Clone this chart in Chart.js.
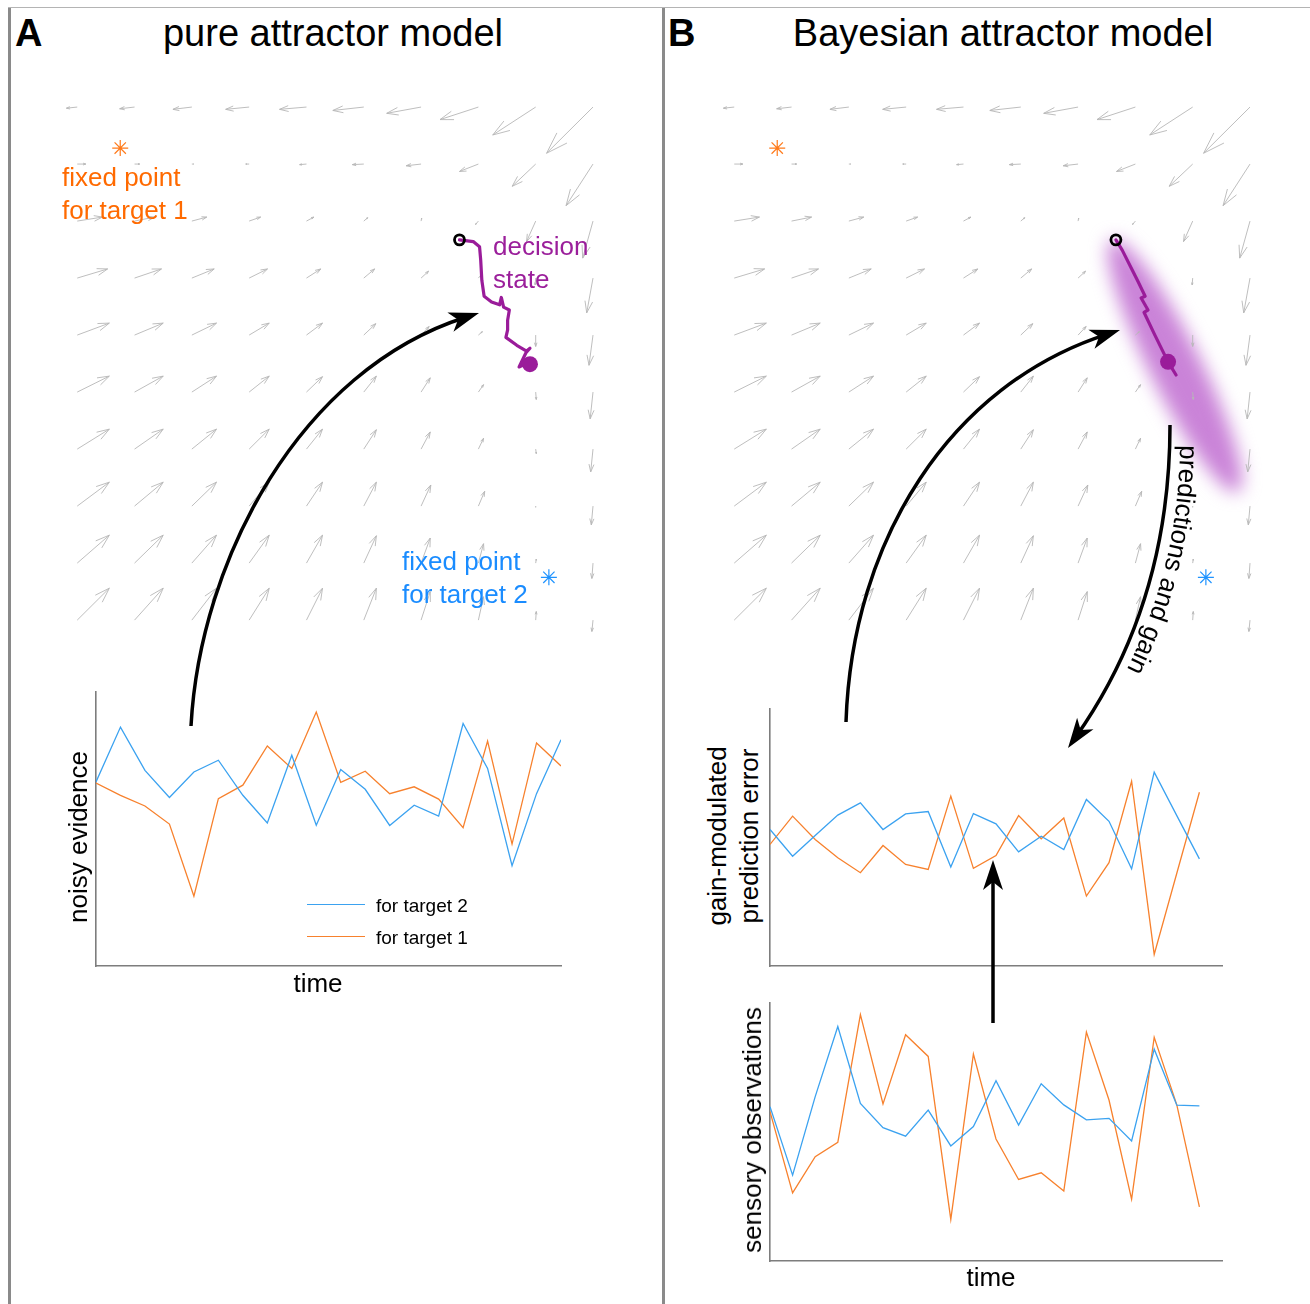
<!DOCTYPE html>
<html lang="en">
<head>
<meta charset="UTF-8">
<title>Attractor models</title>
<script src="https://cdn.jsdelivr.net/npm/chart.js"></script>
<style>
  body { margin: 0; background: #fff; font-family: "Liberation Sans", Arial, sans-serif; }
  #figure { position: relative; width: 1310px; height: 1304px; overflow: hidden; background: #fff; }
  #figure canvas { position: absolute; }
  .rule { position: absolute; }
  .txt { position: absolute; white-space: nowrap; color: #000; }
  .title { font-size: 38px; line-height: 38px; }
  .letter { font-size: 38px; line-height: 38px; font-weight: bold; }
  .note { font-size: 26px; line-height: 33px; }
  .axlab { font-size: 26px; line-height: 32px; text-align: center; transform: translate(-50%, -50%); }
  .rot { transform: translate(-50%, -50%) rotate(-90deg); }
  .leg { font-size: 19px; line-height: 19px; }
  .legline { position: absolute; height: 0; }
  svg { position: absolute; left: 0; top: 0; }
</style>
</head>
<body>
<div id="figure">
  <div class="rule" style="left:8px;top:7px;width:1302px;height:1px;background:#b4b4b4"></div>
  <div class="rule" style="left:8px;top:8px;width:3px;height:1296px;background:#8a8a8a"></div>
  <div class="rule" style="left:662px;top:8px;width:3px;height:1296px;background:#8a8a8a"></div>

  <canvas id="fieldA" width="600" height="590" style="left:40px;top:70px"></canvas>
  <canvas id="fieldB" width="600" height="590" style="left:697px;top:70px"></canvas>
  <canvas id="evidence" width="471" height="280" style="left:93px;top:689px"></canvas>
  <canvas id="gainErr" width="458" height="263" style="left:767px;top:706px"></canvas>
  <canvas id="sensory" width="458" height="264" style="left:767px;top:1000px"></canvas>

  <div class="txt letter" style="left:15px;top:14px">A</div>
  <div class="txt title" style="left:333px;top:14px;transform:translateX(-50%)">pure attractor model</div>
  <div class="txt letter" style="left:668px;top:14px">B</div>
  <div class="txt title" style="left:1003px;top:14px;transform:translateX(-50%)">Bayesian attractor model</div>

  <div class="txt note" style="left:62px;top:161px;color:#ff6a00">fixed point<br>for target 1</div>
  <div class="txt note" style="left:493px;top:230px;color:#9b1f9b">decision<br>state</div>
  <div class="txt note" style="left:402px;top:545px;color:#1a8cff">fixed point<br>for target 2</div>

  <div class="txt axlab rot" style="left:78px;top:837px">noisy evidence</div>
  <div class="txt axlab" style="left:318px;top:983px">time</div>
  <div class="txt axlab rot" style="left:733px;top:836px">gain-modulated<br>prediction error</div>
  <div class="txt axlab rot" style="left:752px;top:1130px">sensory observations</div>
  <div class="txt axlab" style="left:991px;top:1277px">time</div>

  <div id="legend"></div>

  <svg id="overlay" width="1310" height="1304"></svg>
</div>

<script>
    Chart.defaults.font.family = '"Liberation Sans", Arial, sans-serif';

    // ---- vector field of the attractor (grid columns left->right, rows top->bottom) ----
    const gridCols = [0, 1, 2, 3, 4, 5, 6, 7, 8, 9];
    const gridRows = [9, 8, 7, 6, 5, 4, 3, 2, 1, 0];
    const fieldU = [
        [-0.19, -0.26, -0.33, -0.41, -0.47, -0.54, -0.60, -0.67, -0.75, -0.81],
        [0.15, 0.09, 0.03, -0.06, -0.12, -0.20, -0.26, -0.33, -0.41, -0.47],
        [0.44, 0.35, 0.26, 0.20, 0.13, 0.07, 0.01, -0.05, -0.16, -0.18],
        [0.53, 0.47, 0.39, 0.32, 0.25, 0.19, 0.13, 0.05, -0.01, -0.11],
        [0.56, 0.50, 0.43, 0.35, 0.28, 0.21, 0.14, 0.07, 0.00, -0.07],
        [0.56, 0.50, 0.43, 0.35, 0.28, 0.22, 0.16, 0.09, 0.01, -0.05],
        [0.56, 0.50, 0.43, 0.35, 0.28, 0.22, 0.16, 0.09, 0.01, -0.04],
        [0.56, 0.50, 0.43, 0.35, 0.28, 0.22, 0.17, 0.11, 0.00, -0.03],
        [0.56, 0.50, 0.43, 0.35, 0.28, 0.22, 0.16, 0.09, 0.01, -0.02],
        [0.56, 0.50, 0.43, 0.35, 0.28, 0.22, 0.16, 0.09, 0.01, -0.02]
    ];
    const fieldV = [
        [-0.02, -0.03, -0.04, -0.04, -0.04, -0.06, -0.11, -0.22, -0.49, -0.81],
        [0.00, 0.00, 0.00, 0.00, -0.01, -0.01, -0.03, -0.13, -0.39, -0.73],
        [0.07, 0.07, 0.07, 0.07, 0.07, 0.06, 0.05, -0.06, -0.36, -0.65],
        [0.16, 0.16, 0.16, 0.16, 0.16, 0.16, 0.12, 0.06, -0.12, -0.61],
        [0.21, 0.21, 0.21, 0.21, 0.21, 0.20, 0.15, 0.06, -0.20, -0.53],
        [0.28, 0.28, 0.28, 0.28, 0.27, 0.28, 0.25, 0.13, -0.13, -0.47],
        [0.35, 0.35, 0.35, 0.35, 0.35, 0.34, 0.30, 0.19, -0.08, -0.40],
        [0.42, 0.42, 0.42, 0.42, 0.42, 0.42, 0.37, 0.26, -0.02, -0.33],
        [0.49, 0.49, 0.49, 0.49, 0.49, 0.48, 0.44, 0.34, 0.07, -0.27],
        [0.56, 0.56, 0.56, 0.56, 0.56, 0.56, 0.50, 0.41, 0.15, -0.20]
    ];

    // fixed points of the two targets
    const fixedPoint1 = [{ x: 0.75, y: 8.28 }];
    const fixedPoint2 = [{ x: 8.23, y: 0.75 }];

    // decision state trajectories
    const trajAx = [6.67, 6.91, 7.02, 7.04, 7.06, 7.10, 7.23, 7.37, 7.40, 7.44, 7.54, 7.51, 7.51, 7.48, 7.67, 7.84, 7.90, 7.83, 7.71, 7.85, 7.90];
    const trajAy = [6.67, 6.64, 6.55, 6.32, 5.96, 5.68, 5.58, 5.53, 5.66, 5.49, 5.44, 5.26, 5.09, 4.96, 4.82, 4.72, 4.77, 4.69, 4.44, 4.51, 4.49];
    const trajBx = [6.66, 6.77, 6.96, 7.05, 7.17, 7.10, 7.22, 7.15, 7.34, 7.57, 7.71];
    const trajBy = [6.67, 6.49, 6.11, 5.93, 5.68, 5.65, 5.44, 5.40, 5.00, 4.53, 4.30];
    const trajBEnd = 9; // index of the current state on trajectory B

    // posterior uncertainty around the Bayesian decision state: major axis ends, half width
    const beliefAxisX = [6.59, 8.79];
    const beliefAxisY = [6.67, 2.25];
    const beliefHalfWidth = 0.45;

    // ---- time series ----
    const timeSteps = [1, 2, 3, 4, 5, 6, 7, 8, 9, 10, 11, 12, 13, 14, 15, 16, 17, 18, 19, 20];
    const seriesNames = ['for target 2', 'for target 1'];
    const evidenceT2 = [67.2, 87.2, 71.4, 61.5, 70.8, 75.1, 62.3, 52.2, 76.9, 51.4, 71.7, 64.5, 51.3, 58.7, 54.7, 88.5, 72.1, 36.6, 62.9, 82.6];
    const evidenceT1 = [66.8, 62.3, 58.4, 51.8, 25.5, 61.1, 66.0, 80.3, 72.1, 92.7, 67.0, 71.1, 62.9, 65.4, 60.9, 50.5, 82.1, 44.5, 81.4, 73.0];
    const gainErrT2 = [53.1, 42.7, 50.8, 58.7, 63.5, 53.1, 59.2, 60.1, 38.5, 59.3, 55.3, 44.4, 50.5, 45.3, 64.8, 56.3, 37.8, 75.4, 58.5, 41.7];
    const gainErrT1 = [47.3, 58.3, 49.2, 42.1, 36.3, 46.9, 39.5, 37.6, 66.1, 38.0, 43.0, 58.5, 49.5, 57.6, 27.2, 40.2, 71.9, 4.5, 36.1, 67.6];
    const sensoryT2 = [59.8, 33.3, 63.7, 90.9, 61.1, 51.7, 48.4, 58.5, 44.6, 52.1, 69.9, 52.7, 68.7, 60.5, 54.7, 55.3, 46.5, 82.1, 60.4, 60.1];
    const sensoryT1 = [57.9, 26.4, 40.4, 46.0, 95.5, 60.9, 87.7, 79.3, 16.1, 80.2, 47.3, 31.6, 34.2, 27.1, 88.7, 62.4, 24.0, 86.7, 60.5, 21.0];

    const BLUE = '#3ba2f0';
    const ORANGE = '#f7812d';
    const PURPLE = '#9a1c9a';

    const pts = (xs, ys) => xs.map((x, i) => ({ x: x, y: ys[i] }));

    // draws the quiver arrows (and optionally the blurred belief ellipse) under the datasets
    const quiver = {
        id: 'quiver',
        beforeDatasetsDraw(chart, args, opts) {
            const { ctx, scales: { x, y } } = chart;
            if (opts.belief) {
                const x0 = x.getPixelForValue(beliefAxisX[0]), y0 = y.getPixelForValue(beliefAxisY[0]);
                const x1 = x.getPixelForValue(beliefAxisX[1]), y1 = y.getPixelForValue(beliefAxisY[1]);
                const rx = Math.hypot(x1 - x0, y1 - y0) / 2;
                const ry = x.getPixelForValue(beliefHalfWidth) - x.getPixelForValue(0);
                ctx.save();
                ctx.filter = 'blur(9px)';
                ctx.fillStyle = 'rgba(196, 118, 212, 0.9)';
                ctx.beginPath();
                ctx.ellipse((x0 + x1) / 2, (y0 + y1) / 2, rx, ry, Math.atan2(y1 - y0, x1 - x0), 0, 2 * Math.PI);
                ctx.fill();
                ctx.restore();
            }
            ctx.save();
            ctx.strokeStyle = '#b7b7b7';
            ctx.lineWidth = 0.9;
            const a = 0.33, b = 0.33;
            gridRows.forEach((gy, r) => {
                gridCols.forEach((gx, c) => {
                    const px = x.getPixelForValue(gx), py = y.getPixelForValue(gy);
                    const hx = x.getPixelForValue(gx + fieldU[r][c]), hy = y.getPixelForValue(gy + fieldV[r][c]);
                    const dx = hx - px, dy = hy - py;
                    ctx.beginPath();
                    ctx.moveTo(px, py);
                    ctx.lineTo(hx, hy);
                    ctx.moveTo(hx - a * (dx + b * dy), hy - a * (dy - b * dx));
                    ctx.lineTo(hx, hy);
                    ctx.lineTo(hx - a * (dx - b * dy), hy - a * (dy + b * dx));
                    ctx.stroke();
                });
            });
            ctx.restore();
        }
    };

    function fieldChart(id, trajX, trajY, endIdx, belief) {
        const path = pts(trajX, trajY);
        return new Chart(document.getElementById(id), {
            type: 'scatter',
            data: {
                datasets: [
                    { data: [path[endIdx]], pointRadius: 8, backgroundColor: PURPLE, borderWidth: 0 },
                    { data: [path[0]], pointRadius: 5, backgroundColor: 'rgba(0,0,0,0)', borderColor: '#000', borderWidth: 2.8 },
                    { data: path, showLine: true, borderColor: PURPLE, borderWidth: 3.2, pointRadius: 0,
                      borderJoinStyle: 'round', borderCapStyle: 'round' },
                    { data: fixedPoint1, pointStyle: 'star', pointRadius: 8, borderColor: '#ff7a1a', borderWidth: 1.2 },
                    { data: fixedPoint2, pointStyle: 'star', pointRadius: 8, borderColor: '#1f93ff', borderWidth: 1.2 }
                ]
            },
            options: {
                responsive: false,
                animation: false,
                layout: { padding: 0, autoPadding: false },
                scales: {
                    x: { type: 'linear', min: -0.65, max: 9.82, display: false },
                    y: { type: 'linear', min: -0.70, max: 9.65, display: false }
                },
                plugins: { legend: { display: false }, tooltip: { enabled: false }, quiver: { belief: belief } }
            },
            plugins: [quiver]
        });
    }

    function seriesChart(id, s2, s1, xMax) {
        const axis = (min, max) => ({
            type: 'linear', min: min, max: max,
            grid: { display: false, drawTicks: false, tickLength: 0 },
            ticks: { display: false },
            border: { display: true, color: '#7d7d7d', width: 1.6 }
        });
        return new Chart(document.getElementById(id), {
            type: 'line',
            data: {
                datasets: [
                    { label: seriesNames[0], data: pts(timeSteps, s2), borderColor: BLUE, borderWidth: 1.3, pointRadius: 0, tension: 0 },
                    { label: seriesNames[1], data: pts(timeSteps, s1), borderColor: ORANGE, borderWidth: 1.3, pointRadius: 0, tension: 0 }
                ]
            },
            options: {
                responsive: false,
                animation: false,
                layout: { padding: 3, autoPadding: false },
                scales: { x: axis(1, xMax), y: axis(0, 100) },
                plugins: { legend: { display: false }, tooltip: { enabled: false } }
            }
        });
    }

    fieldChart('fieldA', trajAx, trajAy, trajAx.length - 1, false);
    fieldChart('fieldB', trajBx, trajBy, trajBEnd, true);
    seriesChart('evidence', evidenceT2, evidenceT1, 20);
    seriesChart('gainErr', gainErrT2, gainErrT1, 21);
    seriesChart('sensory', sensoryT2, sensoryT1, 21);

    // legend inside the evidence plot
    const legend = document.getElementById('legend');
    [BLUE, ORANGE].forEach((col, i) => {
        const line = document.createElement('div');
        line.className = 'legline';
        line.style.left = '307px';
        line.style.top = (904 + i * 32) + 'px';
        line.style.width = '58px';
        line.style.borderTop = '1.5px solid ' + col;
        legend.appendChild(line);
        const t = document.createElement('div');
        t.className = 'txt leg';
        t.style.left = '376px';
        t.style.top = (896 + i * 32) + 'px';
        t.textContent = seriesNames[i];
        legend.appendChild(t);
    });

    // curved black arrows linking the panels
    const svg = document.getElementById('overlay');
    const NS = 'http://www.w3.org/2000/svg';
    function el(tag, attrs) {
        const e = document.createElementNS(NS, tag);
        for (const k in attrs) e.setAttribute(k, attrs[k]);
        svg.appendChild(e);
        return e;
    }
    function arrow(p0, c1, c2, tip) {
        const dx = tip[0] - c2[0], dy = tip[1] - c2[1];
        const d = Math.hypot(dx, dy), ux = dx / d, uy = dy / d, nx = -uy, ny = ux;
        const len = 30, hw = 10, notch = 8;
        const end = [tip[0] - ux * 14, tip[1] - uy * 14];
        el('path', {
            d: `M${p0[0]},${p0[1]} C${c1[0]},${c1[1]} ${c2[0]},${c2[1]} ${end[0]},${end[1]}`,
            fill: 'none', stroke: '#000', 'stroke-width': 3.5
        });
        const bx = tip[0] - ux * len, by = tip[1] - uy * len;
        el('polygon', {
            points: [[tip[0], tip[1]], [bx + nx * hw, by + ny * hw],
                     [tip[0] - ux * (len - notch), tip[1] - uy * (len - notch)],
                     [bx - nx * hw, by - ny * hw]].map(p => p.join(',')).join(' '),
            fill: '#000'
        });
    }
    arrow([191, 726], [200, 560], [300, 370], [479, 313]);
    arrow([846, 722], [852, 540], [950, 385], [1120, 330]);
    arrow([1170, 425], [1170, 560], [1130, 660], [1068, 748]);
    arrow([993, 1023], [993, 960], [993, 900], [993, 860]);

    el('path', { id: 'pgPath', d: 'M1180,440 C1180,560 1142,658 1082,745', fill: 'none' });
    const label = el('text', { 'font-size': 26, 'font-family': '"Liberation Sans", Arial, sans-serif', fill: '#000' });
    const tp = document.createElementNS(NS, 'textPath');
    tp.setAttribute('href', '#pgPath');
    tp.setAttribute('startOffset', '5');
    tp.textContent = 'predictions and gain';
    label.appendChild(tp);
</script>
</body>
</html>
